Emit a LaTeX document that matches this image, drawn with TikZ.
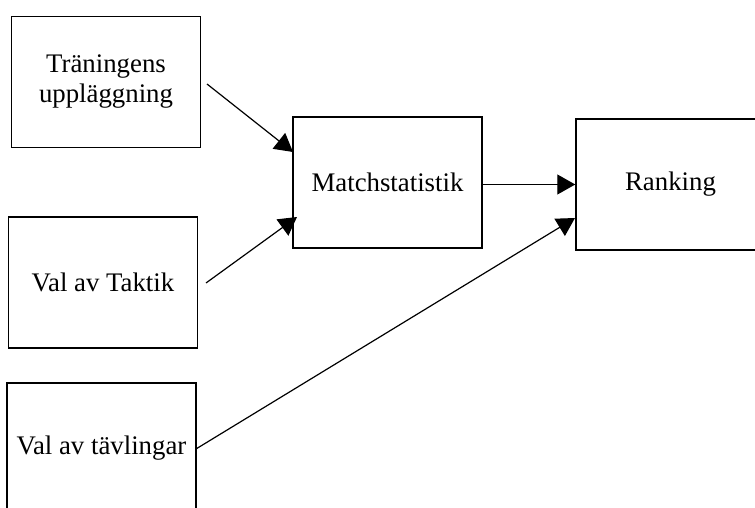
\documentclass[tikz,border=0pt]{standalone}
\usepackage{fontspec}
\setmainfont{Liberation Serif}
\usetikzlibrary{arrows.meta}
\begin{document}
\begin{tikzpicture}[x=1pt,y=-1pt,
  box/.style={draw, line width=1.5pt, minimum width=189pt, minimum height=131pt, inner sep=0pt, align=center, font=\fontsize{26.8}{30}\selectfont},
  conn/.style={line width=1.2pt, -{Triangle[length=18pt,width=20pt]}}]
\useasboundingbox (0,0) rectangle (755,508);
\clip (0,0) rectangle (755,508);
\node[box] (t) at (106,82) {Träningens\\uppläggning};
\node[box] (v) at (103,282.5) {Val av Taktik};
\node[box] (c) at (101.5,448.5) {Val av tävlingar};
\node[box] (m) at (387.5,182.5) {Matchstatistik};
\node[box] (r) at (670.5,184.5) {Ranking};
\coordinate (s1) at (207,84);
\coordinate (s2) at (206,283);
\coordinate (e1) at (293,152);
\coordinate (e2) at (297,217);
\coordinate (e4) at (575,218);
\draw[conn] (s1) -- (e1);
\draw[conn] (s2) -- (e2);
\draw[conn] (m.east |- r.west) -- (r.west);
\draw[conn] (c.east) -- (e4);
\end{tikzpicture}
\end{document}
